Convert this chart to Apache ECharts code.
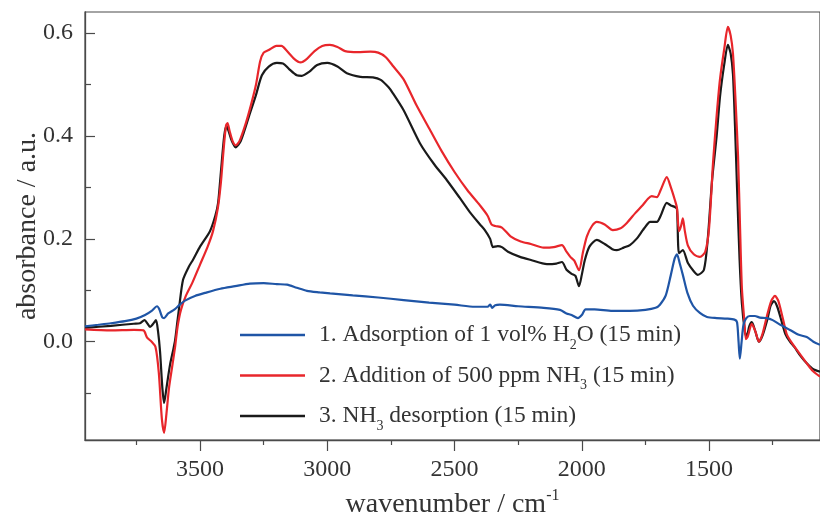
<!DOCTYPE html>
<html>
<head>
<meta charset="utf-8">
<script src="https://cdn.jsdelivr.net/npm/echarts@6/dist/echarts.min.js"></script>
<style>html,body{margin:0;padding:0;background:#fff}#c{width:820px;height:515px}</style>
</head>
<body>
<div id="c"></div>
<script>
const seriesNames = [
  '1. Adsorption of 1 vol% H2O (15 min)',
  '2. Addition of 500 ppm NH3 (15 min)',
  '3. NH3 desorption (15 min)'
];
const xMajorTicks = [1500, 2000, 2500, 3000, 3500];
const xMinorTicks = [1250, 1750, 2250, 2750, 3250, 3750];
const yMajorTicks = [0, 0.2, 0.4, 0.6];
const yMinorTicks = [-0.1, 0.1, 0.3, 0.5];

const waterData = [[3952,0.030],[3900,0.033],[3850,0.036],[3795,0.040],[3750,0.045],[3716,0.052],[3690,0.060],[3669,0.069],[3660,0.063],[3648,0.047],[3641,0.046],[3625,0.055],[3600,0.063],[3580,0.072],[3559,0.080],[3520,0.089],[3480,0.095],[3420,0.103],[3362,0.108],[3304,0.113],[3250,0.114],[3198,0.112],[3158,0.111],[3120,0.105],[3080,0.099],[3030,0.096],[2989,0.094],[2900,0.090],[2800,0.086],[2700,0.081],[2600,0.076],[2500,0.072],[2420,0.068],[2370,0.068],[2360,0.072],[2352,0.066],[2340,0.071],[2322,0.072],[2250,0.069],[2150,0.066],[2086,0.062],[2060,0.055],[2040,0.052],[2015,0.046],[2000,0.052],[1985,0.063],[1950,0.063],[1880,0.060],[1811,0.060],[1750,0.062],[1710,0.066],[1693,0.072],[1670,0.090],[1650,0.130],[1635,0.162],[1626,0.170],[1615,0.152],[1603,0.130],[1585,0.095],[1563,0.070],[1536,0.056],[1508,0.048],[1470,0.046],[1430,0.045],[1400,0.043],[1390,0.038],[1384,0.000],[1379,-0.033],[1372,0.000],[1365,0.032],[1355,0.045],[1340,0.050],[1320,0.050],[1300,0.047],[1273,0.046],[1250,0.042],[1220,0.033],[1182,0.023],[1150,0.014],[1116,0.009],[1090,0.000],[1064,-0.006]];

const ammoniaData = [[3952,0.024],[3850,0.022],[3760,0.023],[3722,0.022],[3708,0.008],[3690,0.000],[3675,-0.010],[3662,-0.060],[3650,-0.150],[3641,-0.177],[3632,-0.140],[3622,-0.090],[3610,-0.050],[3598,-0.010],[3588,0.030],[3575,0.062],[3555,0.090],[3530,0.115],[3500,0.150],[3470,0.185],[3449,0.215],[3430,0.260],[3418,0.310],[3408,0.370],[3398,0.420],[3392,0.425],[3384,0.410],[3372,0.390],[3360,0.382],[3345,0.390],[3320,0.425],[3300,0.460],[3280,0.500],[3264,0.545],[3250,0.562],[3230,0.567],[3200,0.575],[3180,0.575],[3160,0.566],[3130,0.550],[3105,0.543],[3080,0.550],[3050,0.565],[3020,0.575],[2990,0.577],[2960,0.573],[2930,0.565],[2880,0.563],[2830,0.564],[2800,0.562],[2770,0.553],[2740,0.535],[2700,0.510],[2650,0.460],[2600,0.415],[2550,0.370],[2500,0.330],[2450,0.295],[2400,0.265],[2370,0.245],[2355,0.228],[2340,0.225],[2314,0.222],[2280,0.205],[2240,0.195],[2200,0.190],[2150,0.183],[2110,0.184],[2078,0.188],[2060,0.175],[2045,0.165],[2030,0.158],[2011,0.139],[1995,0.175],[1980,0.205],[1960,0.225],[1941,0.233],[1910,0.228],[1878,0.217],[1850,0.220],[1823,0.231],[1790,0.250],[1760,0.266],[1740,0.278],[1725,0.283],[1705,0.281],[1690,0.295],[1666,0.320],[1650,0.300],[1634,0.275],[1626,0.260],[1618,0.215],[1610,0.225],[1603,0.240],[1595,0.215],[1583,0.187],[1560,0.170],[1536,0.165],[1515,0.175],[1500,0.220],[1484,0.350],[1470,0.440],[1457,0.510],[1440,0.570],[1426,0.612],[1415,0.595],[1406,0.560],[1395,0.460],[1386,0.360],[1378,0.220],[1371,0.105],[1362,0.045],[1355,0.005],[1348,0.010],[1332,0.035],[1318,0.020],[1304,0.000],[1290,0.015],[1270,0.055],[1255,0.080],[1241,0.089],[1228,0.080],[1210,0.045],[1195,0.015],[1182,0.003],[1155,-0.016],[1116,-0.042],[1092,-0.057],[1064,-0.068]];

const desorptionData = [[3952,0.027],[3850,0.031],[3760,0.035],[3736,0.036],[3718,0.042],[3706,0.035],[3696,0.029],[3684,0.035],[3673,0.042],[3665,0.020],[3657,-0.020],[3648,-0.090],[3641,-0.119],[3632,-0.090],[3618,-0.045],[3605,-0.015],[3598,0.003],[3590,0.035],[3582,0.067],[3567,0.120],[3545,0.145],[3527,0.160],[3500,0.185],[3461,0.215],[3440,0.245],[3429,0.270],[3418,0.330],[3405,0.400],[3396,0.419],[3388,0.410],[3375,0.390],[3360,0.378],[3340,0.390],[3304,0.444],[3280,0.480],[3257,0.518],[3230,0.535],[3198,0.542],[3174,0.541],[3150,0.530],[3120,0.518],[3100,0.517],[3070,0.525],[3040,0.538],[3000,0.542],[2960,0.535],[2923,0.522],[2870,0.515],[2821,0.514],[2790,0.509],[2760,0.495],[2742,0.483],[2700,0.450],[2636,0.386],[2580,0.345],[2530,0.314],[2480,0.280],[2440,0.252],[2400,0.228],[2381,0.217],[2360,0.200],[2349,0.184],[2330,0.186],[2314,0.184],[2290,0.175],[2243,0.165],[2200,0.159],[2137,0.151],[2100,0.152],[2078,0.155],[2060,0.140],[2040,0.132],[2025,0.128],[2011,0.108],[2000,0.130],[1988,0.159],[1970,0.185],[1941,0.198],[1910,0.190],[1880,0.180],[1862,0.178],[1835,0.183],[1811,0.188],[1785,0.200],[1760,0.217],[1740,0.230],[1732,0.233],[1705,0.233],[1690,0.245],[1666,0.270],[1650,0.265],[1634,0.262],[1626,0.258],[1618,0.172],[1603,0.178],[1583,0.153],[1560,0.137],[1544,0.130],[1520,0.140],[1505,0.200],[1488,0.314],[1470,0.400],[1457,0.476],[1440,0.540],[1426,0.577],[1415,0.560],[1406,0.520],[1398,0.420],[1390,0.300],[1380,0.160],[1371,0.075],[1359,0.019],[1352,0.010],[1342,0.030],[1332,0.038],[1318,0.020],[1304,0.000],[1290,0.012],[1270,0.045],[1258,0.070],[1245,0.079],[1232,0.068],[1215,0.040],[1200,0.015],[1182,0.000],[1165,-0.010],[1140,-0.028],[1116,-0.042],[1092,-0.053],[1064,-0.058]];

const colors = ['#1f55a6', '#e8262b', '#1a1a1a'];
const FONT = 'Liberation Serif';
const legendRich = {
  1: '{f|1. Adsorption of 1 vol% H}{s|2}{n|O (15 min)}',
  2: '{f|2. Addition of 500 ppm NH}{s|3}{n| (15 min)}',
  3: '{f|3. NH}{s|3}{n| desorption (15 min)}'
};

const chart = echarts.init(document.getElementById('c'), null, {renderer: 'canvas'});
const axisColor = '#4a4a4a';
const xBase = {
  type: 'value', min: 1064, max: 3952, inverse: true, position: 'bottom',
  splitLine: {show: false}
};
const yBase = {
  type: 'value', min: -0.191, max: 0.641, position: 'left',
  splitLine: {show: false}
};
chart.setOption({
  animation: false,
  backgroundColor: '#fff',
  color: colors,
  grid: {left: 85, right: 0, top: 12, bottom: 75, containLabel: false, outerBoundsMode: 'none',
    show: true, borderColor: axisColor, borderWidth: 1.2},
  legend: {
    orient: 'vertical', left: 240, top: 318, itemGap: 6.5, padding: 0,
    itemWidth: 65, itemHeight: 2.5, icon: 'rect',
    data: seriesNames,
    formatter: function (name) { return legendRich[seriesNames.indexOf(name) + 1]; },
    textStyle: {
      fontFamily: FONT, color: '#333',
      rich: {
        f: {fontFamily: FONT, fontSize: 23.5, color: '#333', lineHeight: 30, padding: [0, 0, 0, 9]},
        n: {fontFamily: FONT, fontSize: 23.5, color: '#333', lineHeight: 30},
        s: {fontFamily: FONT, fontSize: 14, color: '#333', lineHeight: 10, padding: [20, 0, 0, 0]}
      }
    }
  },
  xAxis: [
    Object.assign({}, xBase, {
      name: '{n|wavenumber / cm}{p|-1}', nameLocation: 'middle', nameGap: 49, nameMoveOverlap: false,
      nameTextStyle: {rich: {
        n: {fontFamily: FONT, fontSize: 28, color: '#333', lineHeight: 32},
        p: {fontFamily: FONT, fontSize: 16, color: '#333', lineHeight: 10, padding: [0, 0, 18, 0]}
      }},
      axisLine: {show: true, onZero: false, lineStyle: {color: axisColor, width: 1.3}},
      axisTick: {show: true, inside: false, length: 11, customValues: xMajorTicks, lineStyle: {color: axisColor, width: 1.2}},
      axisLabel: {show: true, customValues: xMajorTicks, margin: 18, fontFamily: FONT, fontSize: 24, color: '#333',
        formatter: function (v) { return String(v); }}
    }),
    Object.assign({}, xBase, {
      axisLine: {show: false, onZero: false},
      axisTick: {show: true, inside: false, length: 5, customValues: xMinorTicks, lineStyle: {color: axisColor, width: 1.2}},
      axisLabel: {show: false}
    })
  ],
  yAxis: [
    Object.assign({}, yBase, {
      name: 'absorbance / a.u.', nameLocation: 'middle', nameGap: 43, nameRotate: 90, nameMoveOverlap: false,
      nameTextStyle: {fontFamily: FONT, fontSize: 28, color: '#333'},
      axisLine: {show: true, onZero: false, lineStyle: {color: axisColor, width: 1.3}},
      axisTick: {show: true, inside: true, length: 10, customValues: yMajorTicks, lineStyle: {color: axisColor, width: 1.2}},
      axisLabel: {show: true, customValues: yMajorTicks, margin: 12, fontFamily: FONT, fontSize: 24, color: '#333',
        formatter: function (v) { return Math.abs(v) < 1e-9 ? '0.0' : v.toFixed(1); }}
    }),
    Object.assign({}, yBase, {
      axisLine: {show: false, onZero: false},
      axisTick: {show: true, inside: true, length: 6, customValues: yMinorTicks, lineStyle: {color: axisColor, width: 1.2}},
      axisLabel: {show: false}
    })
  ],
  series: [waterData, ammoniaData, desorptionData].map(function (d, i) {
    return {
      name: seriesNames[i], type: 'line', data: d, xAxisIndex: 0, yAxisIndex: 0,
      showSymbol: false, symbol: 'none', smooth: 0.25, clip: true,
      lineStyle: {width: 2.2, color: colors[i]}, z: 3 - i
    };
  })
});
</script>
</body>
</html>
